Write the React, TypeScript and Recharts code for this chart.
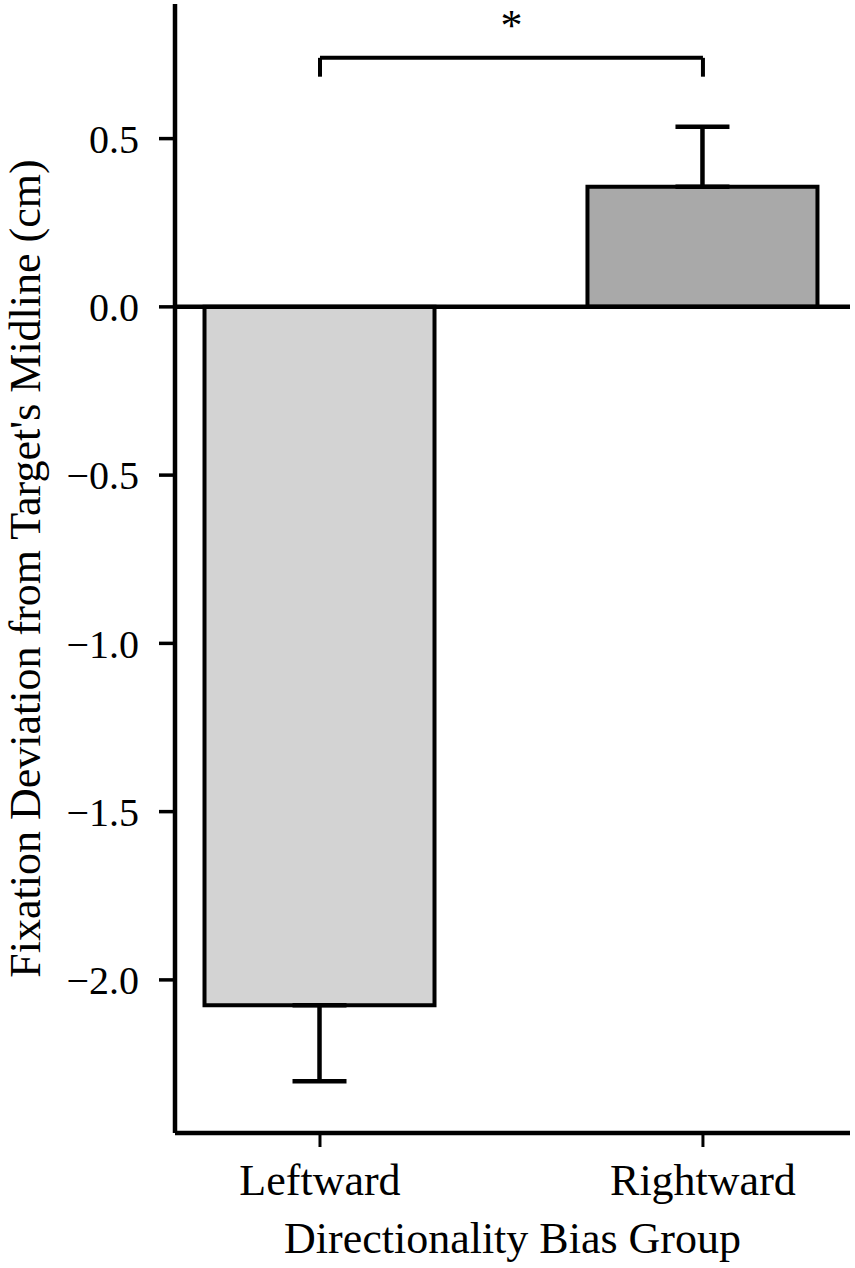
import {
  BarChart,
  Bar,
  Cell,
  XAxis,
  YAxis,
  ErrorBar,
  ReferenceLine,
  Label,
} from "recharts";

// values
const categories = ["Leftward", "Rightward"];
const means = [-2.075, 0.357];
const sems = [0.226, 0.178];
const fills = ["#d3d3d3", "#a9a9a9"];
const yTicks = [-2, -1.5, -1, -0.5, 0, 0.5];

// significance bracket (data units)
const bracketY = 0.74;
const bracketDrop = 0.056;

const FONT = "'Liberation Serif', 'Times New Roman', serif";

const data = categories.map((name, i) => ({
  x: i,
  name,
  value: means[i],
  // one-sided error bar, pointing away from zero
  err: means[i] < 0 ? [sems[i], 0] : [0, sems[i]],
}));

const fmt = (v: number) => {
  const s = Math.abs(v).toFixed(1);
  return v < 0 ? "\u2212" + s : s;
};

export default function App() {
  return (
    <div style={{ position: "absolute", left: 0, top: 0, background: "#fff" }}>
      <BarChart
        width={855}
        height={1268}
        data={data}
        margin={{ top: 4, right: 5, bottom: 0, left: 0 }}
      >
        <XAxis
          dataKey="x"
          type="number"
          domain={[-0.3786, 1.384]}
          allowDataOverflow
          ticks={[0, 1]}
          tickFormatter={(v) => categories[v]}
          height={135}
          axisLine={{ stroke: "#000", strokeWidth: 4.5 }}
          tickLine={{ stroke: "#000", strokeWidth: 3 }}
          tickSize={14}
          tickMargin={17}
          tick={{ fill: "#000", fontSize: 44, fontFamily: FONT }}
        >
          <Label
            content={({ viewBox }: any) => (
              <text
                x={viewBox.x + viewBox.width / 2}
                y={viewBox.y + 120}
                textAnchor="middle"
                fontSize={44}
                fontFamily={FONT}
                fill="#000"
              >
                Directionality Bias Group
              </text>
            )}
          />
        </XAxis>
        <YAxis
          type="number"
          domain={[-2.455, 0.9]}
          allowDataOverflow
          ticks={yTicks}
          tickFormatter={fmt}
          width={175}
          axisLine={{ stroke: "#000", strokeWidth: 4.5 }}
          tickLine={{ stroke: "#000", strokeWidth: 3.5 }}
          tickSize={16}
          tickMargin={20}
          tick={{ fill: "#000", fontSize: 40, fontFamily: FONT }}
        >
          <Label
            content={({ viewBox }: any) => {
              const cx = viewBox.x + 40;
              const cy = viewBox.y + viewBox.height / 2;
              return (
                <text
                  x={cx}
                  y={cy}
                  transform={`rotate(-90, ${cx}, ${cy})`}
                  textAnchor="middle"
                  fontSize={44}
                  fontFamily={FONT}
                  fill="#000"
                >
                  Fixation Deviation from Target's Midline (cm)
                </text>
              );
            }}
          />
        </YAxis>
        <Bar
          dataKey="value"
          barSize={230}
          stroke="#000"
          strokeWidth={4}
          isAnimationActive={false}
        >
          {data.map((d, i) => (
            <Cell key={d.name} fill={fills[i]} />
          ))}
          <ErrorBar
            dataKey="err"
            direction="y"
            width={27}
            stroke="#000"
            strokeWidth={4.5}
            isAnimationActive={false}
          />
        </Bar>
        <ReferenceLine y={0} stroke="#000" strokeWidth={4.5} />
        <ReferenceLine
          segment={[
            { x: 0, y: bracketY },
            { x: 1, y: bracketY },
          ]}
          stroke="#000"
          strokeWidth={4}
          label={{
            content: ({ viewBox }: any) => (
              <text
                x={viewBox.x + viewBox.width / 2}
                y={viewBox.y - 18}
                textAnchor="middle"
                fontSize={44}
                fontFamily={FONT}
                fill="#000"
              >
                *
              </text>
            ),
          }}
        />
        <ReferenceLine
          segment={[
            { x: 0, y: bracketY },
            { x: 0, y: bracketY - bracketDrop },
          ]}
          stroke="#000"
          strokeWidth={4}
        />
        <ReferenceLine
          segment={[
            { x: 1, y: bracketY },
            { x: 1, y: bracketY - bracketDrop },
          ]}
          stroke="#000"
          strokeWidth={4}
        />
      </BarChart>
    </div>
  );
}
